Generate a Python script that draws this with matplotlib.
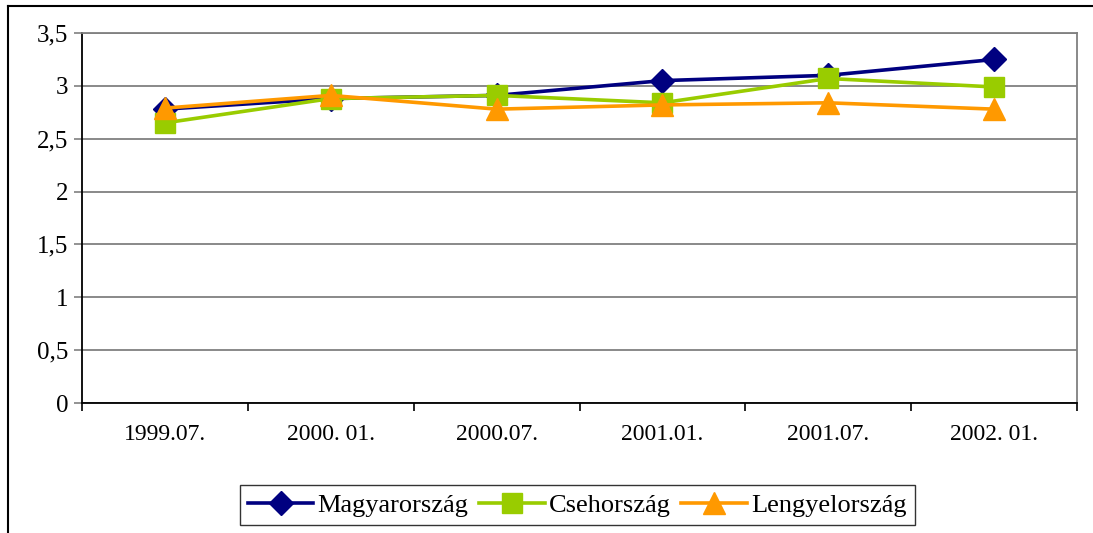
import numpy as np
import matplotlib.pyplot as plt
from matplotlib.lines import Line2D

# data
periods = ["1999.07.", "2000. 01.", "2000.07.", "2001.01.", "2001.07.", "2002. 01."]
magyar = [2.78, 2.88, 2.91, 3.05, 3.10, 3.25]
cseh = [2.65, 2.88, 2.91, 2.84, 3.07, 2.99]
lengyel = [2.79, 2.91, 2.78, 2.82, 2.84, 2.78]

plt.rcParams['font.family'] = ['Liberation Serif', 'DejaVu Serif']

fig = plt.figure(figsize=(10.93, 5.33), dpi=100)
ax = fig.add_axes([0.075, 0.2439, 0.9104, 0.6941])

x = np.arange(len(periods)) + 0.5
ax.plot(x, magyar, color='#000080', lw=2.6, marker='D', ms=12, label='Magyarország', zorder=3)
ax.plot(x, cseh, color='#99CC00', lw=2.6, marker='s', ms=14, label='Csehország', zorder=4)
ax.plot(x, lengyel, color='#FF9900', lw=2.6, marker='^', ms=16, label='Lengyelország', zorder=5)

ax.set_xlim(0, len(periods))
ax.set_ylim(0, 3.5)
yt = np.arange(0, 3.51, 0.5)
ax.set_yticks(yt)
ax.set_yticklabels([f"{v:g}".replace('.', ',') for v in yt], fontsize=18)
ax.yaxis.grid(True, color='#808080', lw=1.3)
ax.set_axisbelow(True)

ax.set_xticks(np.arange(len(periods) + 1))
ax.set_xticklabels([])
ax.set_xticks(x, minor=True)
ax.set_xticklabels(periods, minor=True, fontsize=17)
ax.tick_params(axis='x', which='minor', length=0, pad=15)
ax.tick_params(axis='x', which='major', length=6, width=1.2, color='black')
ax.tick_params(axis='y', length=6, width=1.2, color='#808080', pad=4)

for s in ['top', 'right']:
    ax.spines[s].set_color('#808080')
    ax.spines[s].set_linewidth(1.3)
for s in ['left', 'bottom']:
    ax.spines[s].set_color('black')
    ax.spines[s].set_linewidth(1.3)

leg = fig.legend(loc='center', bbox_to_anchor=(0.528, 0.0525), ncol=3, fontsize=19,
                 frameon=True, fancybox=False, edgecolor='black', handlelength=2.5,
                 handletextpad=0.15, columnspacing=0.4, borderpad=0.3)
leg.get_frame().set_linewidth(1.0)

# outer chart frame (right and bottom edges are cut off in the reference)
fig.add_artist(Line2D([0.0073, 0.0073], [0.0, 0.989], color='black', lw=1.5,
                      transform=fig.transFigure))
fig.add_artist(Line2D([0.0073, 1.0], [0.989, 0.989], color='black', lw=1.5,
                      transform=fig.transFigure))

fig.savefig('out.png', dpi=100)
